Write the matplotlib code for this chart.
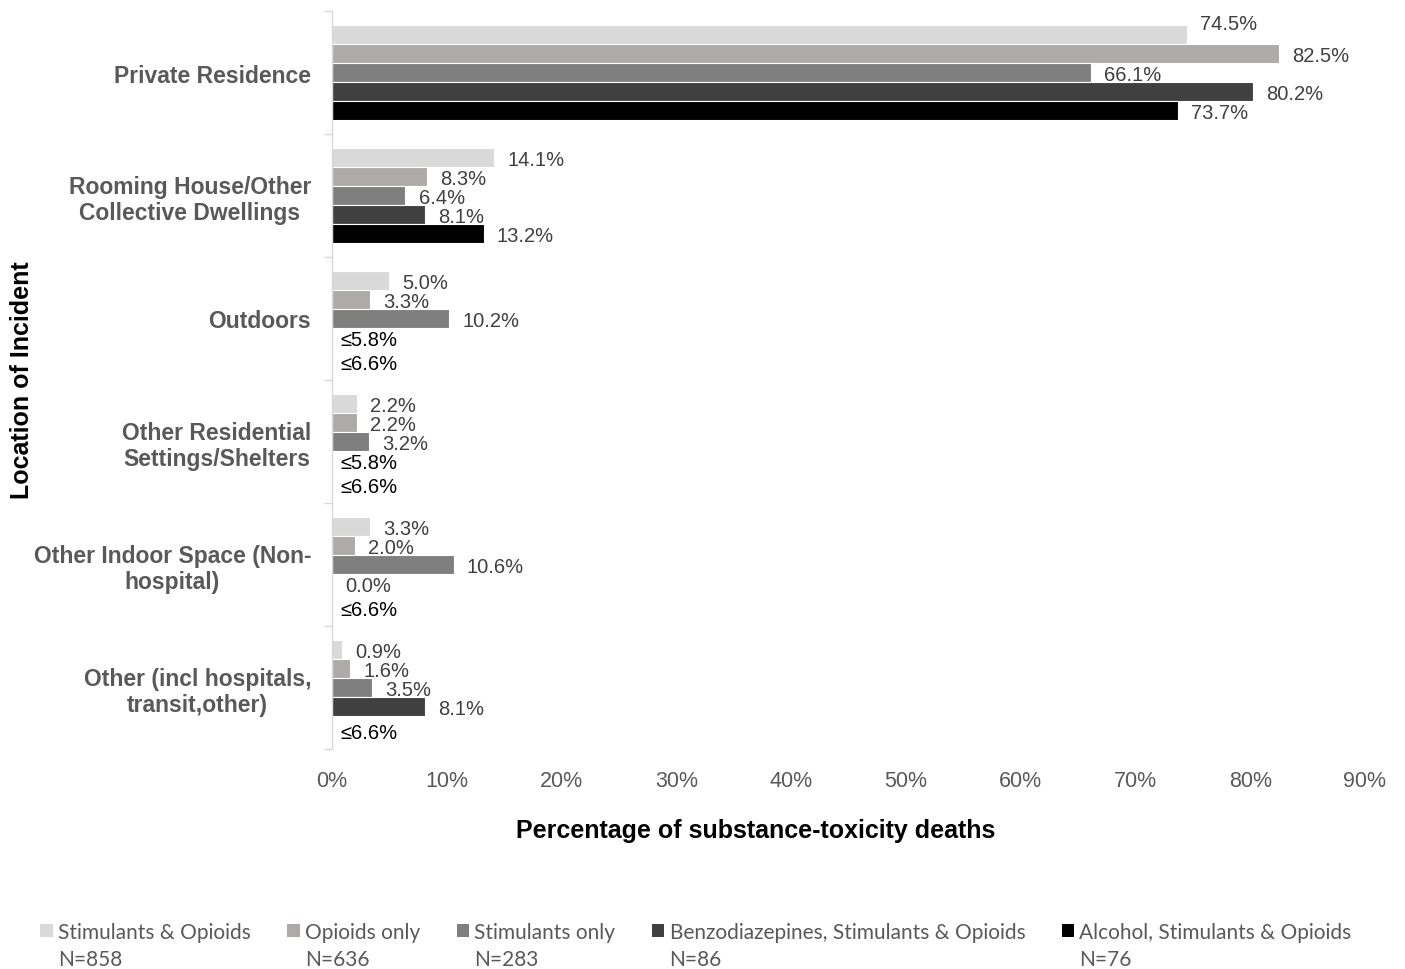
import matplotlib
matplotlib.use("Agg")
import matplotlib.pyplot as plt
from matplotlib.patches import Patch
import numpy as np

plt.rcParams['font.family'] = ['Liberation Sans', 'DejaVu Sans']

categories = ["Private Residence", "Rooming House/Other\nCollective Dwellings", "Outdoors",
              "Other Residential\nSettings/Shelters", "Other Indoor Space (Non-\nhospital)",
              "Other (incl hospitals,\ntransit,other)"]
series = ["Stimulants & Opioids", "Opioids only", "Stimulants only",
          "Benzodiazepines, Stimulants & Opioids", "Alcohol, Stimulants & Opioids"]
series_n = ["N=858", "N=636", "N=283", "N=86", "N=76"]
colors = ["#d9d9d9", "#aeaaaa", "#7f7f7f", "#404040", "#000000"]

stim_opioids = [74.5, 14.1, 5.0, 2.2, 3.3, 0.9]
opioids_only = [82.5, 8.3, 3.3, 2.2, 2.0, 1.6]
stim_only = [66.1, 6.4, 10.2, 3.2, 10.6, 3.5]
benzo = [80.2, 8.1, 0.0, 0.0, 0.0, 8.1]
alcohol = [73.7, 13.2, 0.0, 0.0, 0.0, 0.0]

benzo_labels = ["80.2%", "8.1%", "≤5.8%", "≤5.8%", "0.0%", "8.1%"]
alcohol_labels = ["73.7%", "13.2%", "≤6.6%", "≤6.6%", "≤6.6%", "≤6.6%"]

values = [stim_opioids, opioids_only, stim_only, benzo, alcohol]
xticks = [0, 10, 20, 30, 40, 50, 60, 70, 80, 90]

fig = plt.figure(figsize=(14.05, 9.7), dpi=100)
ax = fig.add_axes([332/1405, 1-750/970, (1365-332)/1405, (750-12)/970])

y = np.arange(len(categories))
h = 0.1545
for j, (vals, c) in enumerate(zip(values, colors)):
    pos = y + (j - 2) * h
    ax.barh(pos, vals, height=h, color=c, edgecolor="white", linewidth=0.8)
    for i, v in enumerate(vals):
        if j == 3:
            lab = benzo_labels[i]
        elif j == 4:
            lab = alcohol_labels[i]
        else:
            lab = f"{v:.1f}%"
        sup = lab.startswith("≤")
        col = "black" if sup else "#404040"
        off = 6 if sup else 9.5
        dy = -1.5
        if sup and j == 4:
            dy = -5
        if i == 0 and j == 0:
            dy = 8
        ax.annotate(lab, xy=(v, pos[i]), xytext=(off, dy), textcoords="offset points",
                    va="center", ha="left", fontsize=14.5, color=col)

ax.set_ylim(len(categories) - 0.5, -0.5)
ax.set_xlim(0, 90)
ax.set_xticks(xticks)
ax.set_xticklabels([f"{t}%" for t in xticks], fontsize=15.5, color="#595959")
ax.set_yticks(y)
ax.set_yticklabels(categories, fontsize=16.5, fontweight="bold", color="#595959",
                   multialignment="center", linespacing=1.15)
ax.tick_params(axis="y", which="major", length=0, pad=15)
ax.set_yticks(np.arange(len(categories) + 1) - 0.5, minor=True)
ax.tick_params(axis="y", which="minor", length=6, color="#d9d9d9", width=1)
ax.tick_params(axis="x", length=0, pad=15)

for s in ["top", "right", "bottom"]:
    ax.spines[s].set_visible(False)
ax.spines["left"].set_color("#d9d9d9")
ax.spines["left"].set_linewidth(1)

fig.text(756/1405, 1-831/970, "Percentage of substance-toxicity deaths", ha="center", va="center",
         fontsize=18, fontweight="bold", color="black")
fig.text(22/1405, 1-380/970, "Location of Incident", ha="center", va="center", rotation=90,
         fontsize=18, fontweight="bold", color="black")

handles = [Patch(facecolor=c, edgecolor="none") for c in colors]
leg = fig.legend(handles, series, loc="center", bbox_to_anchor=(696/1405, 1-933/970), ncol=5,
                 frameon=False, handlelength=0.6, handleheight=0.6, handletextpad=0.25,
                 columnspacing=1.75, borderpad=0, prop={"family": "Lato", "size": 15})
for t in leg.get_texts():
    t.set_color("#595959")

fig.canvas.draw()
renderer = fig.canvas.get_renderer()
inv = fig.transFigure.inverted()
for t, n in zip(leg.get_texts(), series_n):
    bb = t.get_window_extent(renderer)
    x0 = inv.transform((bb.x0, bb.y0))[0]
    fig.text(x0, 1-960/970, n, ha="left", va="center", family="Lato", fontsize=15, color="#595959")

fig.savefig("out.png", dpi=100)
